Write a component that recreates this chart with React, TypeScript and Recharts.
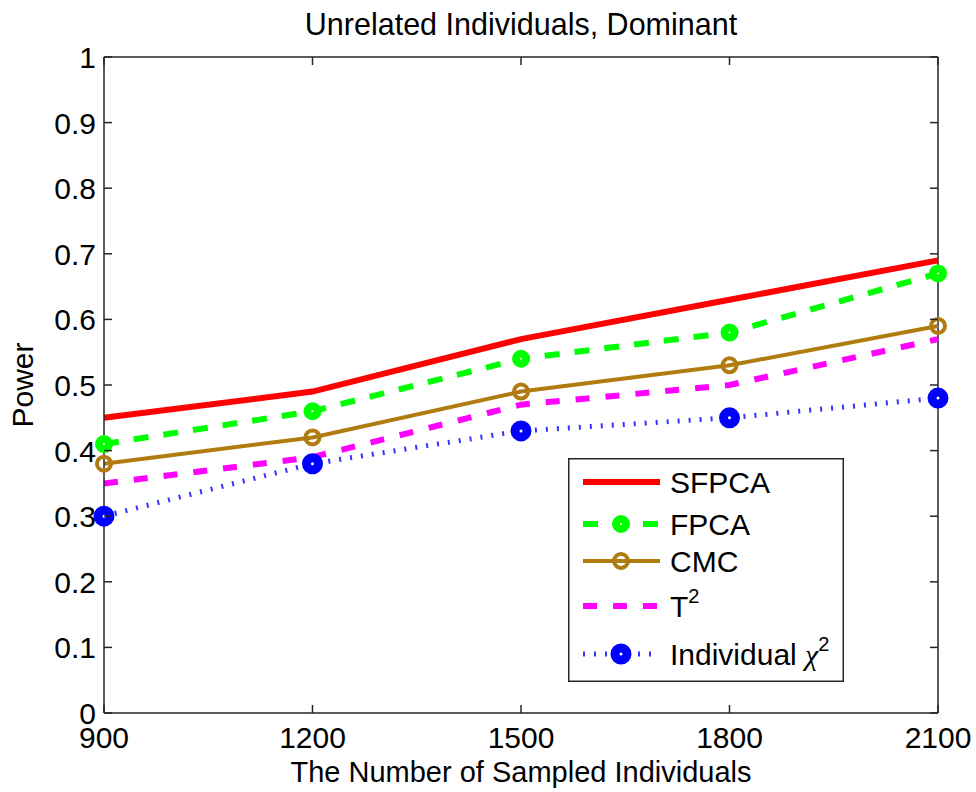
import { Legend, Line, LineChart, ReferenceLine, XAxis, YAxis } from "recharts";

const SAMPLE_SIZES = [900, 1200, 1500, 1800, 2100];
const SFPCA = [0.45, 0.49, 0.57, 0.63, 0.69];
const FPCA = [0.41, 0.46, 0.54, 0.58, 0.67];
const CMC = [0.38, 0.42, 0.49, 0.53, 0.59];
const T2 = [0.35, 0.39, 0.47, 0.5, 0.57];
const INDIVIDUAL = [0.3, 0.38, 0.43, 0.45, 0.48];
const Y_TICKS = [0, 0.1, 0.2, 0.3, 0.4, 0.5, 0.6, 0.7, 0.8, 0.9, 1];

const data = SAMPLE_SIZES.map((n, i) => ({
  n,
  sfpca: SFPCA[i],
  fpca: FPCA[i],
  cmc: CMC[i],
  t2: T2[i],
  indiv: INDIVIDUAL[i],
}));

const FONT = "'Liberation Sans', Arial, Helvetica, sans-serif";
const AXIS = "#262626";

// plot box edges (page pixels)
const LEFT = 104;
const RIGHT = 938;
const TOP = 57;
const BOTTOM = 713;
const TICK = 8;

type Series = {
  key: string;
  color: string;
  width: number;
  dash?: string;
  dot?: { r: number; strokeWidth: number; fill: string; color: string };
};

const SERIES: Series[] = [
  { key: "sfpca", color: "#ff0000", width: 6 },
  { key: "fpca", color: "#00ff00", width: 6, dash: "15 15", dot: { r: 5, strokeWidth: 8, fill: "#fff", color: "#00ff00" } },
  { key: "cmc", color: "#b07c10", width: 4, dot: { r: 7, strokeWidth: 4, fill: "none", color: "#b07c10" } },
  { key: "t2", color: "#ff00ff", width: 6, dash: "14 16" },
  { key: "indiv", color: "#3333ff", width: 5, dash: "2 9", dot: { r: 6, strokeWidth: 9, fill: "#fff", color: "#0000ff" } },
];

// legend row centres, relative to the legend box
const ROWS = [24, 66, 103, 148, 196];

function XTick(props: any) {
  const { x, payload } = props;
  return (
    <g>
      <line x1={x} x2={x} y1={BOTTOM} y2={BOTTOM - TICK} stroke={AXIS} strokeWidth={1.5} />
      <line x1={x} x2={x} y1={TOP} y2={TOP + TICK} stroke={AXIS} strokeWidth={1.5} />
      <text x={x} y={748} textAnchor="middle" fontSize={30} fontFamily={FONT} fill="#000">
        {payload.value}
      </text>
    </g>
  );
}

function YTick(props: any) {
  const { y, payload } = props;
  return (
    <g>
      <line x1={LEFT} x2={LEFT + TICK} y1={y} y2={y} stroke={AXIS} strokeWidth={1.5} />
      <line x1={RIGHT - TICK} x2={RIGHT} y1={y} y2={y} stroke={AXIS} strokeWidth={1.5} />
      <text x={96} y={y + 11} textAnchor="end" fontSize={30} fontFamily={FONT} fill="#000">
        {payload.value}
      </text>
    </g>
  );
}

function LegendBox() {
  return (
    <svg width={276} height={224} style={{ display: "block", fontFamily: FONT }}>
      <rect x={0.75} y={0.75} width={274.5} height={222.5} fill="#fff" stroke={AXIS} strokeWidth={1.5} />
      {SERIES.map((s, i) => {
        const y = ROWS[i];
        return (
          <g key={s.key}>
            <line x1={15} x2={92} y1={y} y2={y} stroke={s.color} strokeWidth={s.width} strokeDasharray={s.dash} />
            {s.dot && (
              <circle cx={53} cy={y} r={s.dot.r} fill={s.dot.fill} stroke={s.dot.color} strokeWidth={s.dot.strokeWidth} />
            )}
          </g>
        );
      })}
      <g fontSize={30} fill="#000">
        <text x={102} y={ROWS[0] + 11}>SFPCA</text>
        <text x={102} y={ROWS[1] + 11}>FPCA</text>
        <text x={102} y={ROWS[2] + 11}>CMC</text>
        <text x={102} y={ROWS[3] + 11}>
          T<tspan fontSize={20} dy={-14}>2</tspan>
        </text>
        <text x={102} y={ROWS[4] + 11}>
          Individual{" "}
          <tspan fontFamily="'Liberation Serif', 'Times New Roman', serif" fontStyle="italic">χ</tspan>
          <tspan fontSize={20} dy={-14}>2</tspan>
        </text>
      </g>
    </svg>
  );
}

export default function App() {
  const textStyle = { fontSize: 30, fill: "#000", fontFamily: FONT };
  return (
    <div style={{ position: "absolute", left: 0, top: 0, width: 976, height: 792, background: "#fff", fontFamily: FONT }}>
      <LineChart width={976} height={792} data={data} margin={{ top: TOP, right: 976 - RIGHT, bottom: 0, left: 0 }}>
        <XAxis
          dataKey="n"
          type="number"
          domain={[900, 2100]}
          ticks={SAMPLE_SIZES}
          height={792 - BOTTOM}
          stroke={AXIS}
          strokeWidth={1.5}
          tickLine={false}
          tick={<XTick />}
          label={{ value: "The Number of Sampled Individuals", position: "insideBottom", offset: 10, style: { ...textStyle, fontSize: 29 } }}
        />
        <YAxis
          type="number"
          domain={[0, 1]}
          ticks={Y_TICKS}
          width={LEFT}
          stroke={AXIS}
          strokeWidth={1.5}
          tickLine={false}
          tick={<YTick />}
          label={{ value: "Power", angle: -90, position: "insideLeft", offset: 22, style: { ...textStyle, textAnchor: "middle" } }}
        />
        <ReferenceLine
          y={1}
          stroke={AXIS}
          strokeWidth={1.5}
          ifOverflow="visible"
          label={{ value: "Unrelated Individuals, Dominant", position: "top", offset: 22, style: { ...textStyle, fontSize: 30.5 } }}
        />
        <ReferenceLine x={2100} stroke={AXIS} strokeWidth={1.5} ifOverflow="visible" />
        <Legend
          layout="horizontal"
          verticalAlign="middle"
          align="center"
          content={() => <LegendBox />}
          wrapperStyle={{ position: "absolute", left: 568, top: 458, width: 276, height: 224 }}
        />
        {SERIES.map((s) => (
          <Line
            key={s.key}
            dataKey={s.key}
            type="linear"
            stroke={s.color}
            strokeWidth={s.width}
            strokeDasharray={s.dash}
            dot={
              s.dot
                ? {
                    r: s.dot.r,
                    fill: s.dot.fill,
                    stroke: s.dot.color,
                    strokeWidth: s.dot.strokeWidth,
                    strokeDasharray: "none",
                  }
                : false
            }
            activeDot={false}
            isAnimationActive={false}
          />
        ))}
      </LineChart>
    </div>
  );
}
